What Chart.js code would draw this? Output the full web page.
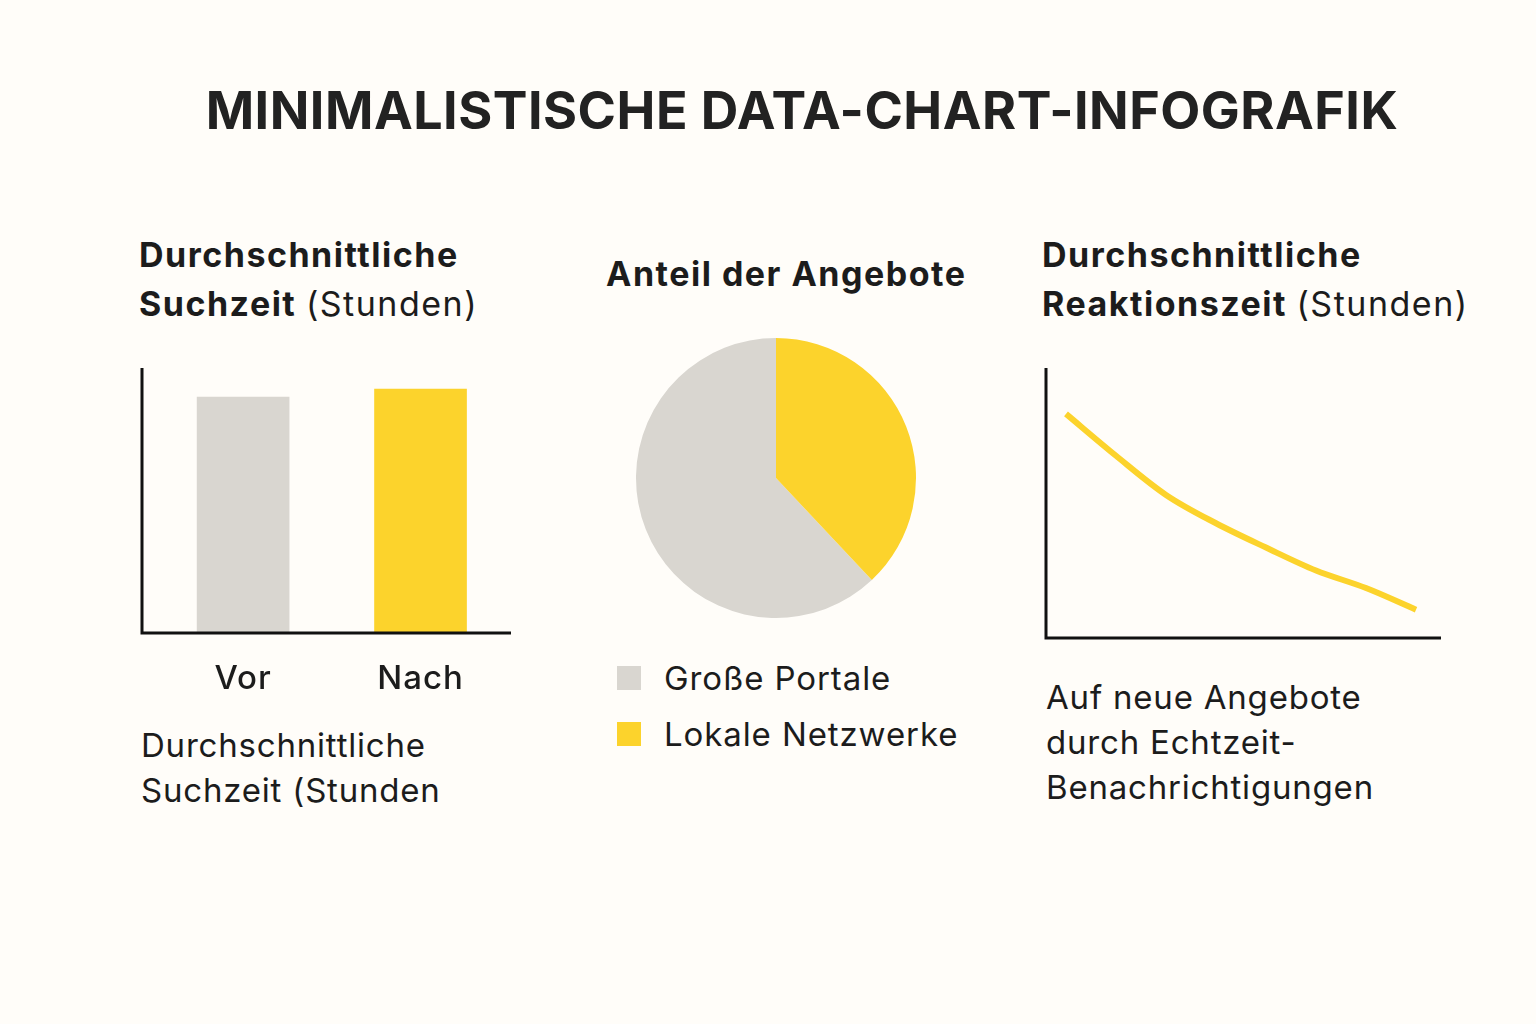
<!DOCTYPE html>
<html lang="de">
<head>
<meta charset="utf-8">
<title>Minimalistische Data-Chart-Infografik</title>
<script src="https://cdn.jsdelivr.net/npm/chart.js@4.4.1/dist/chart.umd.min.js"></script>
<style>
  html, body { margin: 0; padding: 0; background: #fffdf9; }
  body { width: 1536px; height: 1024px; position: relative; overflow: hidden;
         font-family: Inter, "Noto Sans", sans-serif; color: #1c1c1c; }
  .txt { position: absolute; white-space: nowrap; }
  h1 { position: absolute; margin: 0; left: 0; width: 1604px; text-align: center; top: 81px;
       font-size: 52px; font-weight: 700; letter-spacing: 0.5px; line-height: 60px; color: #222; }
  .ptitle { font-size: 34px; font-weight: 700; line-height: 49px; letter-spacing: 1.5px; }
  .ptitle span { font-weight: 400; }
  .body { font-size: 33px; font-weight: 400; line-height: 45px; letter-spacing: 0.8px; }
  canvas { position: absolute; }
  .legend { position: absolute; left: 617px; top: 650px; font-size: 33px; line-height: 56px; letter-spacing: 0.9px; }
  .legend div { display: flex; align-items: center; }
  .legend i { display: inline-block; width: 24px; height: 24px; margin-right: 23px; }
</style>
</head>
<body>
<h1>MINIMALISTISCHE DATA-CHART-INFOGRAFIK</h1>

<div class="txt ptitle" style="left:139px; top:230px;">Durchschnittliche<br>Suchzeit <span>(Stunden)</span></div>
<div class="txt ptitle" style="left:606px; top:249px;">Anteil der Angebote</div>
<div class="txt ptitle" style="left:1042px; top:230px;">Durchschnittliche<br>Reaktionszeit <span>(Stunden)</span></div>

<div style="position:absolute;left:130px;top:360px;width:400px;height:330px;"><canvas id="barChart"></canvas></div>
<div style="position:absolute;left:626px;top:328px;width:300px;height:300px;"><canvas id="pieChart"></canvas></div>
<div style="position:absolute;left:1030px;top:360px;width:430px;height:290px;"><canvas id="lineChart"></canvas></div>

<div class="legend" id="legend"></div>

<div class="txt body" style="left:141px; top:723px;">Durchschnittliche<br>Suchzeit (Stunden</div>
<div class="txt body" style="left:1046px; top:675px;">Auf neue Angebote<br>durch Echtzeit-<br>Benachrichtigungen</div>

<script>
const YELLOW = "#fcd32c";
const GREY = "#d9d6d0";

// Suchzeit (Stunden) vorher / nachher
const barLabels = ["Vor", "Nach"];
const barValues = [8.9, 9.2];

// Anteil der Angebote (%)
const pieLabels = ["Große Portale", "Lokale Netzwerke"];
const pieValues = [62, 38];

// Reaktionszeit (Stunden) über die Zeit
const lineX = [1, 2, 3, 4, 5, 6, 7, 8];
const lineY = [8.3, 6.75, 5.3, 4.25, 3.35, 2.5, 1.85, 1.05];

Chart.defaults.font.family = "Inter, 'Noto Sans', sans-serif";
Chart.defaults.animation = false;

// draws the black L-shaped axes at the chart area edges (+ optional category labels)
const axesPlugin = {
  id: "axes",
  afterDatasetsDraw(chart, args, opts) {
    const { ctx, chartArea: a } = chart;
    ctx.save();
    ctx.strokeStyle = "#111";
    ctx.lineWidth = 3;
    ctx.beginPath();
    ctx.moveTo(a.left, a.top);
    ctx.lineTo(a.left, a.bottom);
    ctx.lineTo(a.right, a.bottom);
    ctx.stroke();
    if (opts.labels) {
      const x = chart.scales.x;
      ctx.fillStyle = "#1c1c1c";
      ctx.font = "500 33px Inter, 'Noto Sans', sans-serif";
      ctx.letterSpacing = "1px";
      ctx.textAlign = "center";
      ctx.textBaseline = "alphabetic";
      opts.labels.forEach((l, i) => {
        ctx.fillText(l, x.getPixelForValue(i + 1), a.bottom + 56);
      });
    }
    ctx.restore();
  }
};

new Chart(document.getElementById("barChart"), {
  type: "bar",
  data: {
    datasets: [{
      data: barValues.map((v, i) => ({ x: i + 1, y: v })),
      backgroundColor: [GREY, YELLOW],
      barThickness: 92
    }]
  },
  options: {
    responsive: true,
    maintainAspectRatio: false,
    layout: { padding: { left: 12, top: 8, right: 19, bottom: 57 } },
    plugins: { legend: { display: false }, tooltip: { enabled: false },
               axes: { labels: barLabels } },
    scales: {
      x: { type: "linear", display: false, offset: false, min: 0.43, max: 2.51 },
      y: { display: false, min: 0, max: 10 }
    }
  },
  plugins: [axesPlugin]
});

new Chart(document.getElementById("pieChart"), {
  type: "pie",
  data: {
    labels: pieLabels,
    datasets: [{
      data: pieValues,
      backgroundColor: [GREY, YELLOW],
      borderWidth: 0
    }]
  },
  options: {
    responsive: true,
    maintainAspectRatio: false,
    layout: { padding: 10 },
    // first slice starts where the second one ends, so "Lokale" sits right of 12 o'clock
    rotation: pieValues[1] / pieValues.reduce((s, v) => s + v, 0) * 360,
    plugins: { legend: { display: false }, tooltip: { enabled: false } }
  }
});

const legend = document.getElementById("legend");
pieLabels.forEach((l, i) => {
  const row = document.createElement("div");
  row.innerHTML = `<i style="background:${[GREY, YELLOW][i]}"></i>${l}`;
  legend.appendChild(row);
});

new Chart(document.getElementById("lineChart"), {
  type: "line",
  data: {
    datasets: [{
      data: lineX.map((x, i) => ({ x, y: lineY[i] })),
      borderColor: YELLOW,
      borderWidth: 6,
      pointRadius: 0,
      tension: 0.4,
      cubicInterpolationMode: "monotone"
    }]
  },
  options: {
    responsive: true,
    maintainAspectRatio: false,
    layout: { padding: { left: 16, top: 8, right: 19, bottom: 12 } },
    plugins: { legend: { display: false }, tooltip: { enabled: false } },
    scales: {
      x: { type: "linear", display: false, min: 0.6, max: 8.5 },
      y: { display: false, min: 0, max: 10 }
    }
  },
  plugins: [axesPlugin]
});
</script>
</body>
</html>
